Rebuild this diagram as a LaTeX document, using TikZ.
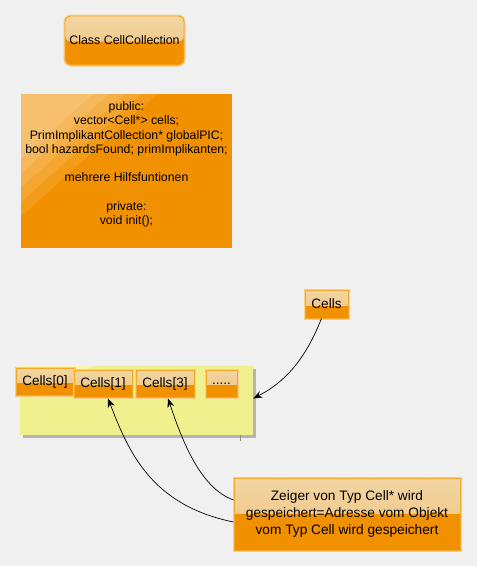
\documentclass[tikz,border=0pt]{standalone}
\usepackage{fontspec}
\setmainfont{Liberation Sans}
\usetikzlibrary{arrows.meta,shadows}
\definecolor{bg}{HTML}{F0F0F0}
\definecolor{org}{HTML}{F29100}
\definecolor{gloss}{HTML}{F2D6A4}
\definecolor{glossb}{HTML}{EFC27A}
\definecolor{brd}{HTML}{F5A828}
\definecolor{glow}{HTML}{F8CF8A}
\definecolor{yel}{HTML}{F1F08F}
\tikzset{
  glossy/.style={fill=org, draw=brd, line width=0.9pt,
    preaction={draw=glow, line width=3pt},
    path picture={\shade[top color=gloss, bottom color=glossb]
      (path picture bounding box.north west) rectangle
      ([yshift=-1pt]path picture bounding box.east);},
    inner sep=0pt, align=center},
  cellbox/.style={glossy, minimum width=58pt, minimum height=27pt, font=\fontsize{13.6}{15}\selectfont},
  conn/.style={-{Stealth[length=9pt,width=7pt]}, line width=0.7pt, black}
}
\begin{document}
\begin{tikzpicture}[x=1pt,y=-1pt]
\fill[bg] (0,0) rectangle (477,566);
\useasboundingbox (0,0) rectangle (477,566);

% class title
\node[glossy, rounded corners=6pt, minimum width=119pt, minimum height=49pt,
  font=\fontsize{12.4}{14}\selectfont] (cls) at (124.5,40.5) {Class CellCollection};

% big box
\node[fill=org, minimum width=211pt, minimum height=154pt, inner sep=0pt] (big) at (126.5,171) {};
\foreach \d/\o in {136/0.10,120/0.10,104/0.10,88/0.12,72/0.12} {
  \fill[white, opacity=\o] (21,94) -- ++(\d,0) -- (21,{94+\d*0.9}) -- cycle;
}
\node[align=center, font=\fontsize{12.3}{14.3}\selectfont] (bigtxt) at (126.5,164.5)
 {public:\\ vector<Cell*> cells;\\ PrimImplikantCollection* globalPIC;\\ bool hazardsFound; primImplikanten;\\[14.3pt]
  mehrere Hilfsfuntionen\\[14.3pt] private:\\ void init();};

% Cells pointer
\node[glossy, minimum width=43pt, minimum height=28pt, font=\fontsize{13.6}{15}\selectfont] (cells) at (326.5,304) {Cells};

% yellow container
\node[fill=yel, minimum width=233pt, minimum height=69pt, inner sep=0pt,
  drop shadow={shadow xshift=3pt, shadow yshift=-3pt, fill=black!45, opacity=0.6}] (vec) at (136.5,400.5) {};
\fill[white, opacity=0.3] (20,366) -- (95,366) -- (20,392) -- cycle;
\draw[black!45, line width=0.6pt] (240,435) -- (240,441);

\node[cellbox] (c0) at (45,381.5) {Cells[0]};
\node[cellbox] (c1) at (103,383.5) {Cells[1]};
\node[cellbox] (c3) at (165,383.5) {Cells[3]};
\node[cellbox, minimum width=31pt] (cd) at (221.5,383.5) {.....};

% note
\node[glossy, minimum width=226pt, minimum height=72pt, font=\fontsize{13.7}{17}\selectfont,
  path picture={\shade[top color=gloss, bottom color=glossb]
      (path picture bounding box.north west) rectangle
      ([yshift=1pt]path picture bounding box.east);}] (note) at (347,514)
 {Zeiger von Typ Cell* wird\\ gespeichert=Adresse vom Objekt\\ vom Typ Cell wird gespeichert};

\coordinate (n1) at ([yshift=14pt]note.west);
\coordinate (n2) at ([yshift=-8pt]note.west);
\coordinate (c1t) at ([yshift=-1pt]c1.south);
\coordinate (c3t) at ([xshift=3pt,yshift=-1pt]c3.south);

\draw[conn] ([xshift=-5pt]cells.south) .. controls (305,360) and (285,382) .. ([yshift=2pt]vec.east);
\draw[conn] (n1) .. controls (200,488) and (182,440) .. (c3t);
\draw[conn] (n2) .. controls (150,505) and (128,450) .. ([xshift=5pt]c1t);
\end{tikzpicture}
\end{document}
